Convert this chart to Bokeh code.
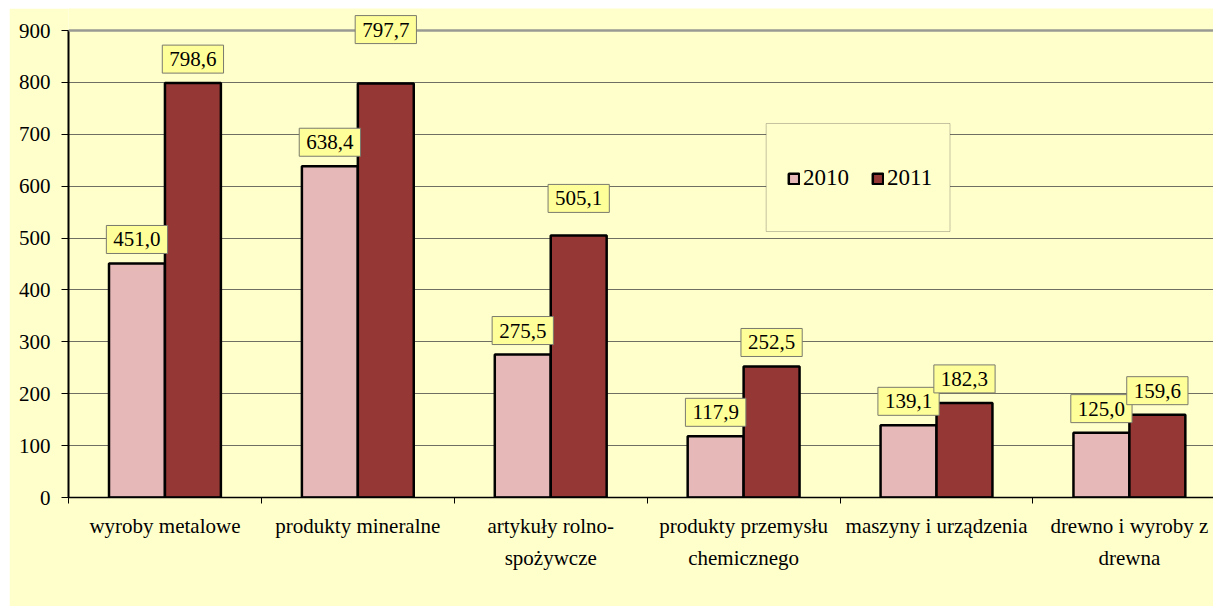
from bokeh.plotting import figure
from bokeh.models import (ColumnDataSource, Range1d, FixedTicker, Label, Legend, LegendItem,
                          BoxAnnotation, Span, Spacer)
from bokeh.layouts import column, row
from bokeh.embed import file_html
from bokeh.resources import INLINE

# ---- data ----
categories = ["wyroby metalowe", "produkty mineralne", "artykuły rolno-\nspożywcze",
              "produkty przemysłu\nchemicznego", "maszyny i urządzenia", "drewno i wyroby z\ndrewna"]
years = ["2010", "2011"]
values_2010 = [451.0, 638.4, 275.5, 117.9, 139.1, 125.0]
values_2011 = [798.6, 797.7, 505.1, 252.5, 182.3, 159.6]
y_ticks = [0, 100, 200, 300, 400, 500, 600, 700, 800, 900]

# ---- layout tweaks (not data) ----
label_lift_2010 = [24, 24, 24, 24, 24, 24]
label_lift_2011 = [24, 54, 37, 24, 24, 24]

FONT = "'Liberation Serif', 'Times New Roman', serif"
BG = "#FFFFCC"
C2010 = "#E6B9B8"
C2011 = "#953735"
BAR_W = 0.29

n = len(categories)
centers = [i + 0.5 for i in range(n)]
fmt = lambda v: f"{v:.1f}".replace(".", ",")

src10 = ColumnDataSource(dict(x=[c - BAR_W / 2 for c in centers], top=values_2010))
src11 = ColumnDataSource(dict(x=[c + BAR_W / 2 for c in centers], top=values_2011))

# frame extends 22px above the 900 line so labels are not clipped
FRAME_H = 489
y_top = y_ticks[-1] * FRAME_H / 467.0

p = figure(width=1204, height=598, output_backend="svg", toolbar_location=None,
           x_range=Range1d(0, 5.936), y_range=Range1d(y_ticks[0], y_top),
           min_border_left=59, min_border_right=0, min_border_top=0, min_border_bottom=109)
p.background_fill_color = BG
p.border_fill_color = BG
p.outline_line_color = None

# grid
p.xgrid.grid_line_color = None
p.ygrid.grid_line_color = "#6f6f64"
p.ygrid.grid_line_width = 1
p.ygrid.ticker = FixedTicker(ticks=y_ticks[:-1])
p.add_layout(Span(location=y_ticks[-1], dimension="width", line_color="#9a9a94", line_width=2.5))

# y axis
p.yaxis.ticker = FixedTicker(ticks=y_ticks)
p.yaxis.bounds = (y_ticks[0], y_ticks[-1])
p.yaxis.axis_line_color = "black"
p.yaxis.axis_line_width = 2
p.yaxis.major_tick_out = 7
p.yaxis.major_tick_in = 0
p.yaxis.minor_tick_line_color = None
p.yaxis.major_label_standoff = 11
p.yaxis.major_label_text_font = FONT
p.yaxis.major_label_text_font_size = "21px"
p.yaxis.major_label_text_color = "black"

# x axis
p.xaxis.ticker = FixedTicker(ticks=centers, minor_ticks=list(range(n + 1)))
p.xaxis.major_label_overrides = {c: lab for c, lab in zip(centers, categories)}
p.xaxis.axis_line_color = "black"
p.xaxis.axis_line_width = 1.5
p.xaxis.major_tick_out = 0
p.xaxis.major_tick_in = 0
p.xaxis.minor_tick_out = 6
p.xaxis.minor_tick_in = 0
p.xaxis.minor_tick_line_color = "black"
p.xaxis.major_label_standoff = 10
p.xaxis.major_label_text_font = FONT
p.xaxis.major_label_text_font_size = "21px"
p.xaxis.major_label_text_color = "black"
p.xaxis.major_label_text_line_height = 1.35

# bars
r10 = p.vbar(x="x", top="top", width=BAR_W, bottom=0, source=src10,
             fill_color=C2010, line_color="black", line_width=2.5)
r11 = p.vbar(x="x", top="top", width=BAR_W, bottom=0, source=src11,
             fill_color=C2011, line_color="black", line_width=2.5)

# data labels
for s, vals, lifts in ((src10, values_2010, label_lift_2010), (src11, values_2011, label_lift_2011)):
    for xx, v, lift in zip(s.data["x"], vals, lifts):
        p.add_layout(Label(x=xx, y=v, text=fmt(v), y_offset=lift,
                           text_align="center", text_baseline="middle",
                           text_font=FONT, text_font_size="21px", text_color="black",
                           background_fill_color="#FFFF99", border_line_color="#7a7a6e",
                           border_line_width=1, padding=7))

# legend box
p.add_layout(BoxAnnotation(left=3.617, right=4.57, bottom=512.6, top=720.8,
                           fill_color=BG, fill_alpha=1, line_color="#3c3c3c", line_width=1,
                           level="annotation"))
legend = Legend(items=[LegendItem(label=years[0], renderers=[r10]),
                       LegendItem(label=years[1], renderers=[r11])],
                orientation="horizontal", location=(719, 306),
                glyph_width=13, glyph_height=13, label_standoff=3, spacing=22,
                padding=0, margin=0, border_line_color=None, background_fill_alpha=0,
                label_text_font=FONT, label_text_font_size="23px", label_text_color="black")
p.add_layout(legend)

layout = column(Spacer(height=8), row(Spacer(width=9), p))
open("out.html", "w").write(file_html(layout, INLINE))
